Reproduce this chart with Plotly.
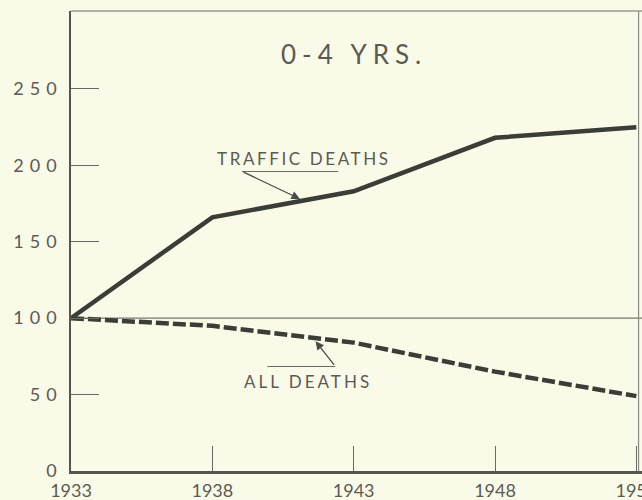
import numpy as np
import plotly.graph_objects as go

# ---- data ----
years = [1933, 1938, 1943, 1948, 1953]
traffic_deaths = [100, 166, 183, 218, 225]
all_deaths = [100, 95, 84, 65, 49]
x_tick_vals = [1933, 1938, 1943, 1948, 1953]
y_tick_vals = [0, 50, 100, 150, 200, 250]
title_text = "0-4 YRS."
traffic_label = "TRAFFIC DEATHS"
all_label = "ALL DEATHS"

bg = "#fafae8"
ink = "#3b3e37"
txt = "#5a5b55"
font_family = "Lato, 'DejaVu Sans', sans-serif"


def spaced(s, px):
    return f'<span style="letter-spacing:{px}px">{s}</span>'


fig = go.Figure()
fig.add_trace(go.Scatter(x=years, y=traffic_deaths, mode="lines",
                         line=dict(color=ink, width=4.5), hoverinfo="skip"))
fig.add_trace(go.Scatter(x=years, y=all_deaths, mode="lines",
                         line=dict(color=ink, width=4.5, dash="13px,4px"),
                         hoverinfo="skip"))

# reference line at index 100
fig.add_shape(type="line", xref="paper", yref="y", x0=0, x1=1, y0=100, y1=100,
              line=dict(color="#77786f", width=1.3), layer="below")
# top and right frame
fig.add_shape(type="line", xref="paper", yref="paper", x0=0, x1=1, y0=1, y1=1,
              line=dict(color="#6a6b64", width=1.2))
fig.add_shape(type="line", xref="paper", yref="paper", x0=0.994, x1=0.994, y0=0, y1=1,
              line=dict(color="#8a8b84", width=1.2))

# title
fig.add_annotation(x=1943.0, y=273, xref="x", yref="y", text=spaced(title_text, 6),
                   showarrow=False,
                   font=dict(size=26, color=txt, family=font_family))

# traffic deaths label, underline and arrow
t_tail_x, t_tail_y = 1939.05, 196.0
t_head_x = 1941.1
t_head_y = float(np.interp(t_head_x, years, traffic_deaths))
fig.add_annotation(x=1941.25, y=204.4, xref="x", yref="y", text=spaced(traffic_label, 2.6),
                   showarrow=False,
                   font=dict(size=17, color=txt, family=font_family))
fig.add_shape(type="line", xref="x", yref="y", x0=t_tail_x, x1=1942.45,
              y0=t_tail_y, y1=t_tail_y, line=dict(color="#6a6b64", width=1.1))
fig.add_annotation(x=t_head_x, y=t_head_y + 1.5, ax=t_tail_x, ay=t_tail_y,
                   xref="x", yref="y", axref="x", ayref="y", text="",
                   showarrow=True, arrowhead=2, arrowsize=1.3, arrowwidth=1.3,
                   arrowcolor="#4a4b45")

# all deaths label, underline and arrow
a_tail_x, a_tail_y = 1942.35, 68.4
a_head_x = 1941.65
a_head_y = float(np.interp(a_head_x, years, all_deaths))
fig.add_annotation(x=1941.4, y=58.5, xref="x", yref="y", text=spaced(all_label, 3),
                   showarrow=False,
                   font=dict(size=17, color=txt, family=font_family))
fig.add_shape(type="line", xref="x", yref="y", x0=1939.95, x1=a_tail_x,
              y0=a_tail_y, y1=a_tail_y, line=dict(color="#6a6b64", width=1.1))
fig.add_annotation(x=a_head_x, y=a_head_y - 2, ax=a_tail_x, ay=a_tail_y,
                   xref="x", yref="y", axref="x", ayref="y", text="",
                   showarrow=True, arrowhead=2, arrowsize=1.3, arrowwidth=1.3,
                   arrowcolor="#4a4b45")

fig.update_layout(
    width=642, height=500,
    margin=dict(l=71, r=0, t=11, b=29),
    paper_bgcolor=bg, plot_bgcolor=bg,
    showlegend=False,
    font=dict(family=font_family, color=txt),
    xaxis=dict(range=[1933, 1953.2], tickvals=x_tick_vals,
               ticktext=[str(v) for v in x_tick_vals],
               ticks="inside", ticklen=25, tickwidth=1.3, tickcolor="#6a6b64",
               showline=True, linewidth=3, linecolor="#55564f",
               showgrid=False, zeroline=False, automargin=False,
               ticklabeloverflow="allow",
               tickfont=dict(size=18, color=txt, family=font_family),
               ticklabelstandoff=1, fixedrange=True),
    yaxis=dict(range=[0, 301], tickvals=y_tick_vals,
               ticktext=[spaced(str(v), 6) for v in y_tick_vals],
               ticks="inside", ticklen=28, tickwidth=1.3, tickcolor="#6a6b64",
               showline=True, linewidth=1.5, linecolor="#55564f",
               showgrid=False, zeroline=False, automargin=False,
               tickfont=dict(size=18, color=txt, family=font_family),
               ticklabelstandoff=3, fixedrange=True),
)

fig.write_html("out.html", config={"displayModeBar": False},
               post_script="document.body.style.margin='0';document.body.style.overflow='hidden';")
